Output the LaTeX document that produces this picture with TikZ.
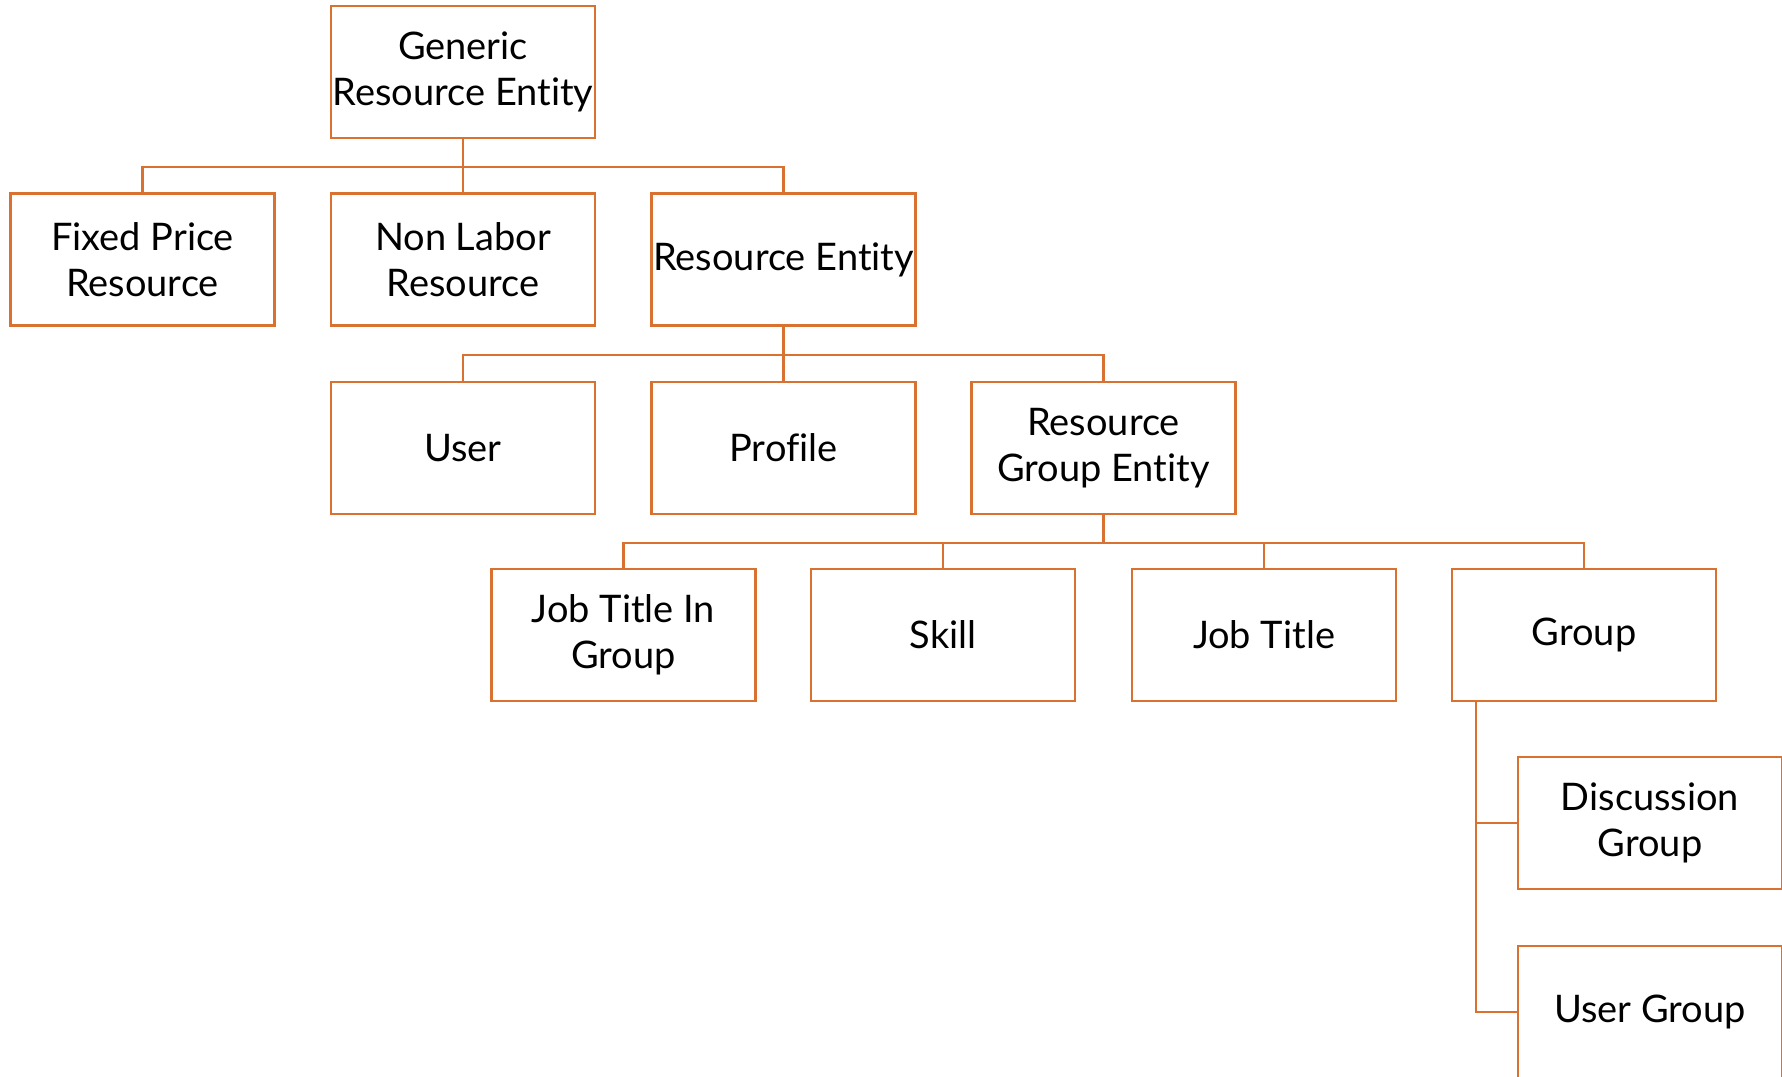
\documentclass[tikz,border=0pt]{standalone}
\usepackage{fontspec}
\setmainfont{Lato}[Ligatures=NoCommon]
\definecolor{boxorange}{RGB}{217,113,48}

\begin{document}
\begin{tikzpicture}[x=0.01cm, y=-0.01cm,
    box/.style={draw=boxorange, line width=0.7pt, rectangle, minimum width=2.64cm,
        minimum height=1.32cm, inner sep=0pt, align=center,
        font=\fontsize{10.8pt}{13pt}\selectfont},
    link/.style={draw=boxorange, line width=0.7pt}]
            \useasboundingbox (0, 0) rectangle (1782, 1077);
            \clip (0, 0) rectangle (1782, 1077);

            \node[box] (gre)   at (463, 72)      {Generic\\Resource Entity};
            \node[box] (fpr)   at (142.5, 259.5) {Fixed Price\\Resource};
            \node[box] (nlr)   at (463, 259.5)   {Non Labor\\Resource};
            \node[box] (re)    at (783.5, 259.5) {Resource Entity};
            \node[box] (user)  at (463, 448)     {User};
            \node[box] (prof)  at (783.5, 448)   {Profile};
            \node[box] (rge)   at (1103.5, 448)  {Resource\\Group Entity};
            \node[box] (jtig)  at (623.5, 635)   {Job Title In\\Group};
            \node[box] (skill) at (943, 635)     {Skill};
            \node[box] (jt)    at (1264, 635)    {Job Title};
            \node[box] (grp)   at (1584, 635)    {Group};
            \node[box] (dg)    at (1650, 823)    {Discussion\\Group};
            \node[box] (ug)    at (1650, 1012)   {User Group};

            \draw[link] (gre.south) -- ++(0, 28) -| (fpr.north);
            \draw[link] (gre.south) -- (nlr.north);
            \draw[link] (gre.south) -- ++(0, 28) -| (re.north);
            \draw[link] (re.south) -- ++(0, 28) -| (user.north);
            \draw[link] (re.south) -- (prof.north);
            \draw[link] (re.south) -- ++(0, 28) -| (rge.north);
            \draw[link] (rge.south) -- ++(0, 28) -| (jtig.north);
            \draw[link] (rge.south) -- ++(0, 28) -| (skill.north);
            \draw[link] (rge.south) -- ++(0, 28) -| (jt.north);
            \draw[link] (rge.south) -- ++(0, 28) -| (grp.north);
            \draw[link] ([xshift=0.255cm]grp.south west) |- (dg.west);
            \draw[link] ([xshift=0.255cm]grp.south west) |- (ug.west);
        \end{tikzpicture}
\end{document}
